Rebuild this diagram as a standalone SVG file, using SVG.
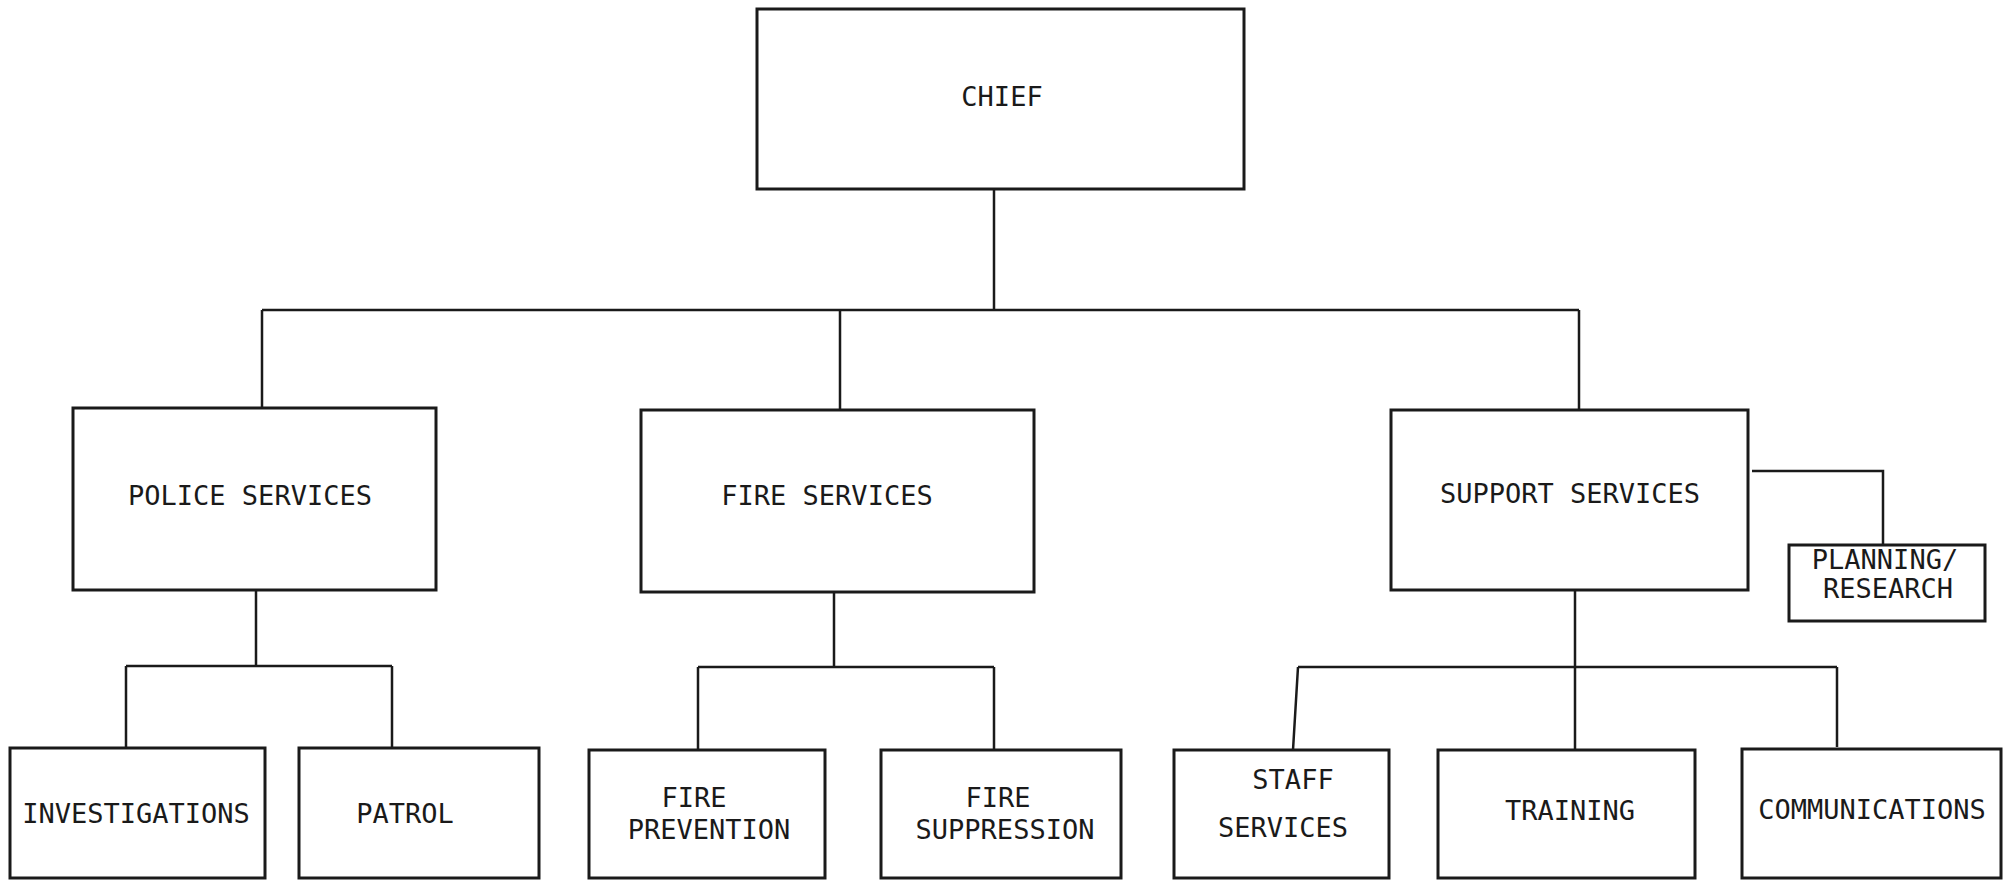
<svg xmlns="http://www.w3.org/2000/svg" width="2011" height="880" viewBox="0 0 2011 880">
<style>
.box{fill:none;stroke:#1a1a1a;stroke-width:3}
.con{fill:none;stroke:#1a1a1a;stroke-width:2.5}
text{font-family:"DejaVu Sans Mono","Liberation Mono",monospace;font-size:27px;fill:#1a1a1a;text-anchor:middle}
</style>
<rect width="2011" height="880" fill="#ffffff"/>
<g id="connectors">
<path class="con" d="M994 190 V310"/>
<path class="con" d="M262 310 H1579"/>
<path class="con" d="M262 310 V408 M840 310 V410 M1579 310 V410"/>
<path class="con" d="M1752 471 H1883 V545"/>
<path class="con" d="M256 590 V666 M126 666 H392 M126 666 V748 M392 666 V748"/>
<path class="con" d="M834 592 V667 M698 667 H994 M698 667 V750 M994 667 V750"/>
<path class="con" d="M1575 590 V750 M1298 667 H1837 M1298 667 L1293 750 M1837 667 V747"/>
</g>
<g id="chief"><rect class="box" x="757" y="9" width="487" height="180"/><text x="1002" y="106">CHIEF</text></g>
<g id="police"><rect class="box" x="73" y="408" width="363" height="182"/><text x="250" y="505">POLICE SERVICES</text></g>
<g id="fire"><rect class="box" x="641" y="410" width="393" height="182"/><text x="827" y="505">FIRE SERVICES</text></g>
<g id="support"><rect class="box" x="1391" y="410" width="357" height="180"/><text x="1570" y="503">SUPPORT SERVICES</text></g>
<g id="planning"><rect class="box" x="1789" y="545" width="196" height="76"/><text x="1885" y="569">PLANNING/</text><text x="1888" y="598">RESEARCH</text></g>
<g id="investigations"><rect class="box" x="10" y="748" width="255" height="130"/><text x="136" y="823">INVESTIGATIONS</text></g>
<g id="patrol"><rect class="box" x="299" y="748" width="240" height="130"/><text x="405" y="823">PATROL</text></g>
<g id="fire-prevention"><rect class="box" x="589" y="750" width="236" height="128"/><text x="694" y="807">FIRE</text><text x="709" y="839">PREVENTION</text></g>
<g id="fire-suppression"><rect class="box" x="881" y="750" width="240" height="128"/><text x="998" y="807">FIRE</text><text x="1005" y="839">SUPPRESSION</text></g>
<g id="staff-services"><rect class="box" x="1174" y="750" width="215" height="128"/><text x="1293" y="789">STAFF</text><text x="1283" y="837">SERVICES</text></g>
<g id="training"><rect class="box" x="1438" y="750" width="257" height="128"/><text x="1570" y="820">TRAINING</text></g>
<g id="communications"><rect class="box" x="1742" y="749" width="259" height="129"/><text x="1872" y="819">COMMUNICATIONS</text></g>
</svg>
